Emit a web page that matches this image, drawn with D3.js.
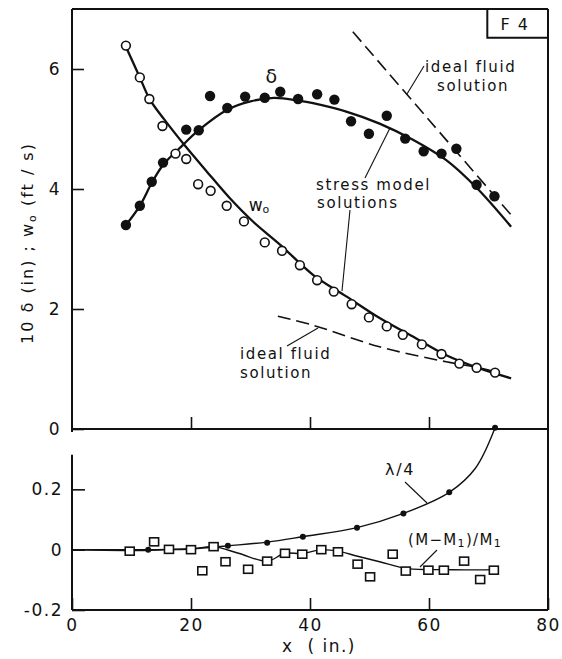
<!DOCTYPE html>
<html>
<head>
<meta charset="utf-8">
<script src="https://cdn.jsdelivr.net/npm/d3@7/dist/d3.min.js"></script>
<style>
  html, body { margin: 0; padding: 0; background: #fff; }
  svg { display: block; }
  text { font-family: "DejaVu Sans", sans-serif; fill: #111; }
</style>
</head>
<body>
<svg id="chart" width="562" height="659"></svg>
<script>
// ---------- data ----------
const xTicks = [0, 20, 40, 60, 80];
const xTickLabels = ["0", "20", "40", "60", "80"];
const upperYTicks = [0, 2, 4, 6];
const upperYTickLabels = ["0", "2", "4", "6"];
const lowerYTicks = [-0.2, 0, 0.2];
const lowerYTickLabels = ["-0.2", "0", "0.2"];

// w0 measurements (open circles)
const w0X = [9.06, 11.4, 13.0, 15.2, 17.4, 19.2, 21.2, 23.3, 26.0, 28.9, 32.4, 35.3, 38.3, 41.2, 44.0, 47.0, 49.9, 52.9, 55.6, 58.8, 62.1, 65.1, 68.0, 71.1];
const w0Y = [6.39, 5.86, 5.50, 5.05, 4.59, 4.50, 4.08, 3.97, 3.72, 3.46, 3.11, 2.97, 2.73, 2.48, 2.29, 2.08, 1.86, 1.71, 1.57, 1.41, 1.25, 1.09, 1.02, 0.94];

// 10*delta measurements (filled circles)
const deltaX = [9.06, 11.4, 13.4, 15.3, 19.2, 21.3, 23.2, 26.1, 29.1, 32.4, 35.0, 38.0, 41.2, 44.1, 46.9, 49.9, 52.9, 56.0, 59.1, 62.1, 64.6, 68.0, 71.0];
const deltaY = [3.40, 3.72, 4.12, 4.44, 4.99, 4.98, 5.55, 5.35, 5.54, 5.52, 5.62, 5.50, 5.58, 5.49, 5.13, 4.92, 5.22, 4.84, 4.63, 4.59, 4.67, 4.07, 3.88];

// stress model solutions (solid curves)
const w0CurveX = [9.06, 11.4, 13.1, 15.5, 19.0, 22.5, 26.5, 30.5, 35.0, 40.5, 46.1, 51.7, 57.3, 62.9, 68.5, 73.8];
const w0CurveY = [6.37, 5.86, 5.49, 5.16, 4.72, 4.31, 3.85, 3.45, 3.07, 2.57, 2.21, 1.85, 1.54, 1.23, 1.01, 0.845];
const deltaCurveX = [9.06, 11.4, 13.4, 15.3, 18.7, 21.3, 26.1, 30.0, 34.0, 38.3, 40.5, 46.1, 51.7, 57.3, 62.9, 68.0, 73.8];
const deltaCurveY = [3.40, 3.72, 4.10, 4.40, 4.74, 4.98, 5.32, 5.46, 5.52, 5.47, 5.43, 5.29, 5.09, 4.82, 4.48, 4.02, 3.37];

// ideal fluid solutions (dashed)
const idealDeltaX = [47.2, 60.0, 74.3];
const idealDeltaY = [6.62, 5.15, 3.51];
const idealW0X = [34.6, 40.5, 51.7, 62.9, 67.9, 70.5];
const idealW0Y = [1.88, 1.73, 1.37, 1.12, 1.03, 0.97];

// lower panel: lambda/4 (small dots) and (M-M1)/M1 (squares)
const lambdaX = [12.8, 20.2, 26.2, 32.8, 38.8, 47.9, 55.7, 63.4, 71.1];
const lambdaY = [0.0, 0.0, 0.013, 0.023, 0.043, 0.073, 0.12, 0.19, 0.404];
const lambdaCurveX = [0, 12.8, 20.2, 26.2, 32.8, 38.8, 47.9, 55.7, 63.4, 67.8, 71.1];
const lambdaCurveY = [0, 0, 0.003, 0.013, 0.025, 0.043, 0.073, 0.12, 0.19, 0.27, 0.404];
const massX = [9.7, 13.8, 16.3, 20.0, 21.9, 23.8, 25.8, 29.6, 32.8, 35.8, 38.7, 41.9, 44.7, 48.0, 50.1, 53.9, 56.1, 59.9, 62.5, 65.9, 68.6, 70.9];
const massY = [-0.005, 0.026, 0.001, 0.0, -0.07, 0.01, -0.04, -0.065, -0.038, -0.012, -0.015, 0.0, -0.007, -0.048, -0.09, -0.015, -0.071, -0.068, -0.068, -0.038, -0.099, -0.068];
const massCurveX = [0, 9.7, 16.3, 20.0, 23.8, 28.0, 32.8, 35.8, 38.7, 41.9, 44.7, 48.0, 51.7, 56.1, 59.9, 62.5, 66.0, 70.9];
const massCurveY = [0, -0.003, 0.0, 0.002, 0.01, -0.012, -0.038, -0.012, -0.013, 0.0, -0.005, -0.022, -0.040, -0.062, -0.066, -0.066, -0.067, -0.066];

// ---------- layout ----------
const svg = d3.select("#chart");
const x = d3.scaleLinear().domain([0, 80]).range([72, 548]);
const yU = d3.scaleLinear().domain([0, 7]).range([429, 9]);
const yL = d3.scaleLinear().domain([-0.2, 0.4]).range([610, 429]);

const zip = (a, b) => a.map((v, i) => [v, b[i]]);
const black = "#111";

// frame
const frame = svg.append("g").attr("stroke", black).attr("stroke-width", 2).attr("fill", "none");
frame.append("line").attr("x1", x(0)).attr("x2", x(0)).attr("y1", yU(7)).attr("y2", yU(0) + 3);
frame.append("line").attr("x1", x(0)).attr("x2", x(80)).attr("y1", yU(7)).attr("y2", yU(7));
frame.append("line").attr("x1", x(80)).attr("x2", x(80)).attr("y1", yU(7)).attr("y2", yL(-0.2));
frame.append("line").attr("x1", x(0)).attr("x2", x(80)).attr("y1", yU(0)).attr("y2", yU(0));
frame.append("line").attr("x1", x(0)).attr("x2", x(0)).attr("y1", yL(0.315)).attr("y2", yL(-0.2));
frame.append("line").attr("x1", x(0)).attr("x2", x(80)).attr("y1", yL(-0.2)).attr("y2", yL(-0.2));

// F4 box
frame.append("path").attr("d", `M${x(80)},${yU(6.52)} H${x(69.8)} V${yU(7)}`);
svg.append("text").attr("x", 515).attr("y", 30).attr("text-anchor", "middle")
  .attr("font-size", 16).attr("letter-spacing", 1.5).text("F 4");

// axes
function styleAxis(g) {
  g.select(".domain").remove();
  g.selectAll(".tick line").attr("stroke", black).attr("stroke-width", 1.6);
  g.selectAll(".tick text").attr("font-size", 17).attr("fill", black)
    .attr("font-family", "DejaVu Sans, sans-serif").attr("letter-spacing", 1.5);
}
svg.append("g").attr("transform", `translate(${x(0)},0)`)
  .call(d3.axisLeft(yU).tickValues(upperYTicks).tickSizeInner(-12).tickSizeOuter(0).tickPadding(11)
    .tickFormat((d, i) => upperYTickLabels[i]))
  .call(styleAxis);
svg.append("g").attr("transform", `translate(0,${yU(0)})`)
  .call(d3.axisBottom(x).tickValues(xTicks.slice(1, 4)).tickSizeInner(-12).tickSizeOuter(0).tickFormat(""))
  .call(styleAxis);
svg.append("g").attr("transform", `translate(${x(0)},0)`)
  .call(d3.axisLeft(yL).tickValues(lowerYTicks).tickSizeInner(-13).tickSizeOuter(0).tickPadding(9)
    .tickFormat((d, i) => lowerYTickLabels[i]))
  .call(styleAxis);
svg.append("g").attr("transform", `translate(0,${yL(-0.2)})`)
  .call(d3.axisBottom(x).tickValues(xTicks).tickSizeInner(-12).tickSizeOuter(0).tickPadding(9)
    .tickFormat((d, i) => xTickLabels[i]))
  .call(styleAxis);

// axis titles
const yt = svg.append("text").attr("transform", "translate(33,243) rotate(-90)")
  .attr("text-anchor", "middle").attr("font-size", 16).attr("letter-spacing", 2);
yt.append("tspan").text("10 δ (in) ;  w");
yt.append("tspan").attr("font-size", 11).attr("dy", 3).text("o");
yt.append("tspan").attr("dy", -3).text("  (ft / s)");
svg.append("text").attr("x", 319).attr("y", 652).attr("text-anchor", "middle")
  .attr("font-size", 17).attr("letter-spacing", 1.5).attr("xml:space", "preserve").text("x  ( in.)");

// curves
const lineU = d3.line().x(d => x(d[0])).y(d => yU(d[1])).curve(d3.curveCatmullRom.alpha(0.5));
const lineL = d3.line().x(d => x(d[0])).y(d => yL(d[1])).curve(d3.curveCatmullRom.alpha(0.5));

svg.append("path").attr("d", lineU(zip(deltaCurveX, deltaCurveY)))
  .attr("fill", "none").attr("stroke", black).attr("stroke-width", 2.3);
svg.append("path").attr("d", lineU(zip(w0CurveX, w0CurveY)))
  .attr("fill", "none").attr("stroke", black).attr("stroke-width", 2.3);
svg.append("path").attr("d", lineU(zip(idealDeltaX, idealDeltaY)))
  .attr("fill", "none").attr("stroke", black).attr("stroke-width", 1.6).attr("stroke-dasharray", "13,6");
svg.append("path").attr("d", lineU(zip(idealW0X, idealW0Y)))
  .attr("fill", "none").attr("stroke", black).attr("stroke-width", 1.6).attr("stroke-dasharray", "13,6");

svg.append("path").attr("d", lineL(zip(lambdaCurveX, lambdaCurveY)))
  .attr("fill", "none").attr("stroke", black).attr("stroke-width", 1.4);
svg.append("path").attr("d", lineL(zip(massCurveX, massCurveY)))
  .attr("fill", "none").attr("stroke", black).attr("stroke-width", 1.4);

// markers
svg.append("g").selectAll("circle").data(zip(w0X, w0Y)).join("circle")
  .attr("cx", d => x(d[0])).attr("cy", d => yU(d[1])).attr("r", 4.4)
  .attr("fill", "#fff").attr("stroke", black).attr("stroke-width", 1.6);
svg.append("g").selectAll("circle").data(zip(deltaX, deltaY)).join("circle")
  .attr("cx", d => x(d[0])).attr("cy", d => yU(d[1])).attr("r", 5.2).attr("fill", black);
svg.append("g").selectAll("circle").data(zip(lambdaX, lambdaY)).join("circle")
  .attr("cx", d => x(d[0])).attr("cy", d => yL(d[1])).attr("r", 3).attr("fill", black);
svg.append("g").selectAll("rect").data(zip(massX, massY)).join("rect")
  .attr("x", d => x(d[0]) - 4.5).attr("y", d => yL(d[1]) - 4).attr("width", 9).attr("height", 8)
  .attr("fill", "#fff").attr("stroke", black).attr("stroke-width", 1.6);

// annotations
const ann = svg.append("g");
function label(px, py, txt, size, anchor) {
  return ann.append("text").attr("x", px).attr("y", py).attr("font-size", size || 15)
    .attr("letter-spacing", 1.6).attr("text-anchor", anchor || "start").text(txt);
}
function leader(x1, y1, x2, y2) {
  ann.append("line").attr("x1", x1).attr("y1", y1).attr("x2", x2).attr("y2", y2)
    .attr("stroke", black).attr("stroke-width", 1.1);
}
label(272, 83, "δ", 19, "middle");
const wl = ann.append("text").attr("x", 259).attr("y", 211).attr("font-size", 17).attr("text-anchor", "middle");
wl.append("tspan").text("w");
wl.append("tspan").attr("font-size", 11).attr("dy", 2).text("o");

label(425, 72, "ideal fluid");
label(437, 91, "solution");
leader(424, 66, 407, 94);

label(316, 190, "stress model");
label(317, 208, "solutions");
leader(390, 128, 365, 178);
leader(350, 210, 342, 291);

label(240, 359, "ideal fluid");
label(240, 378, "solution");
leader(287, 346, 318, 328);

label(400, 475, "λ/4", 16, "middle");
leader(405, 482, 427, 503);

const ml = ann.append("text").attr("x", 455).attr("y", 545).attr("font-size", 15)
  .attr("text-anchor", "middle").attr("letter-spacing", 1.3);
ml.append("tspan").text("(M−M");
ml.append("tspan").attr("font-size", 11).attr("dy", 2).text("1");
ml.append("tspan").attr("dy", -2).text(")/M");
ml.append("tspan").attr("font-size", 11).attr("dy", 2).text("1");
leader(437, 550, 420, 567);
</script>
</body>
</html>
